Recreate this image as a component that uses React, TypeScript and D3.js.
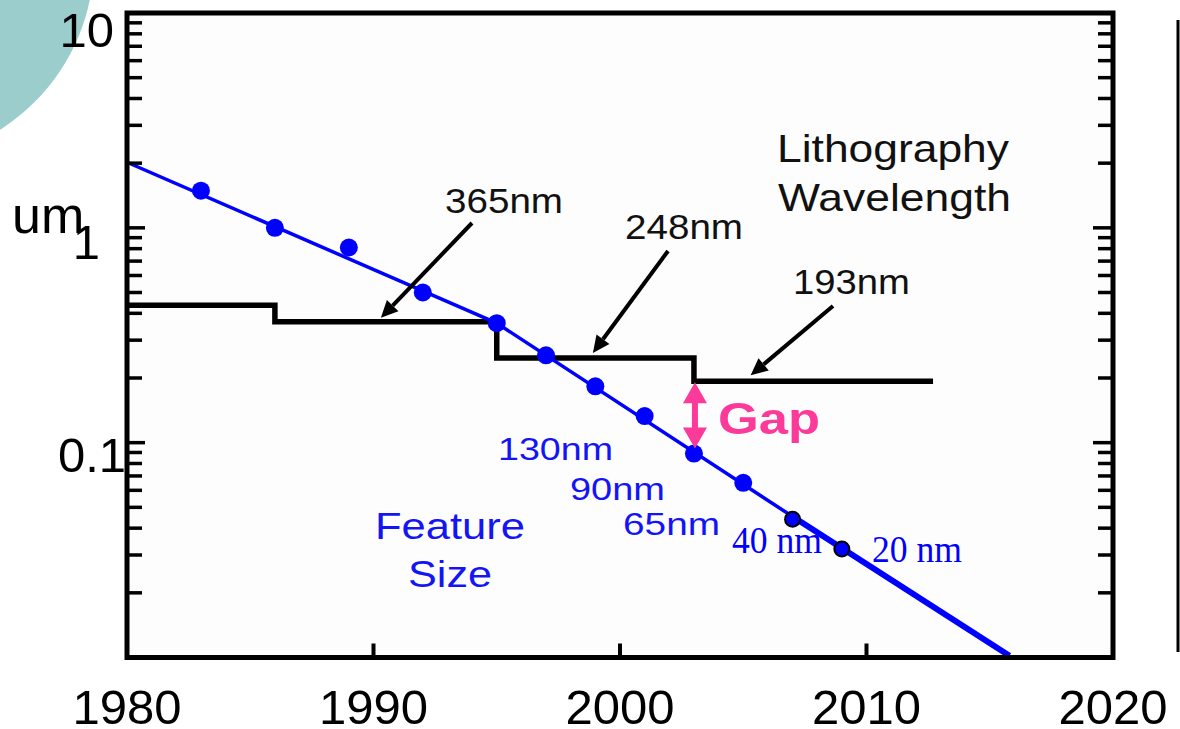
import React from "react";
import * as d3 from "d3";

// ---- data ----
const featureYears = [1983, 1986, 1989, 1992, 1995, 1997, 1999, 2001, 2003, 2005];
const featureSizes = [1.49, 1.0, 0.81, 0.5, 0.36, 0.255, 0.183, 0.133, 0.089, 0.065];
const futureYears = [2007, 2009];
const futureSizes = [0.044, 0.032];
const futureLabels = ["40 nm", "20 nm"];

const trendThinYears = [1980, 1995, 2007];
const trendThinValues = [2.02, 0.36, 0.0453];
const trendThickYears = [2007, 2015.8];
const trendThickValues = [0.0453, 0.0102];

const litStepYears = [1980, 1986, 1995, 2003, 2012.7];
const litStepValues = [0.436, 0.365, 0.248, 0.193, 0.193];

const xTicks = [1980, 1990, 2000, 2010, 2020];
const yLabelValues = [10, 1, 0.1];
const yLabelTexts = ["10", "1", "0.1"];

const gapYear = 2003;
const gapTop = 0.193;
const gapBottom = 0.089;

export default function App() {
  const W = 1180, H = 729;
  const left = 127, right = 1113, top = 13, bottom = 657.5;
  const x = d3.scaleLinear().domain([1980, 2020]).range([left, right]);
  const y = d3.scaleLog().domain([0.01, 10]).range([bottom, top]);

  const line = d3.line<[number, number]>().x(d => x(d[0])).y(d => y(d[1]));
  const stepLine = d3
    .line<[number, number]>()
    .x(d => x(d[0]))
    .y(d => y(d[1]))
    .curve(d3.curveStepAfter);

  const thin = trendThinYears.map((t, i) => [t, trendThinValues[i]] as [number, number]);
  const thick = trendThickYears.map((t, i) => [t, trendThickValues[i]] as [number, number]);
  const steps = litStepYears.map((t, i) => [t, litStepValues[i]] as [number, number]);

  // minor ticks
  const minor: number[] = [];
  [0.01, 0.1, 1].forEach(base => {
    for (let k = 2; k <= 9; k++) minor.push(base * k);
  });

  const font = "'Liberation Sans', Arial, sans-serif";
  const serif = "'Liberation Serif', 'Times New Roman', serif";
  const blue = "#0000ff";
  const textBlue = "#1414f5";
  const pink = "#fb3a99";

  const arrow = (x1: number, y1: number, x2: number, y2: number, key: string) => {
    const ang = Math.atan2(y2 - y1, x2 - x1);
    const hl = 17, hw = 8;
    const bx = x2 - hl * Math.cos(ang), by = y2 - hl * Math.sin(ang);
    const px = -Math.sin(ang) * hw, py = Math.cos(ang) * hw;
    return (
      <g key={key}>
        <line x1={x1} y1={y1} x2={bx} y2={by} stroke="#000" strokeWidth={4} />
        <polygon points={`${x2},${y2} ${bx + px},${by + py} ${bx - px},${by - py}`} fill="#000" />
      </g>
    );
  };

  const labels: { t: string; x: number; y: number; fs: number; w: number; c: string; f: string; bold?: boolean }[] = [
    { t: "365nm", x: 445, y: 213, fs: 35, w: 118, c: "#111", f: font },
    { t: "248nm", x: 625, y: 239, fs: 35, w: 118, c: "#111", f: font },
    { t: "193nm", x: 793, y: 294, fs: 35, w: 117, c: "#111", f: font },
    { t: "Lithography", x: 777, y: 162, fs: 39, w: 232, c: "#111", f: font },
    { t: "Wavelength", x: 778, y: 211, fs: 39, w: 233, c: "#111", f: font },
    { t: "130nm", x: 498, y: 460, fs: 32, w: 115, c: textBlue, f: font },
    { t: "90nm", x: 570, y: 500, fs: 32, w: 95, c: textBlue, f: font },
    { t: "65nm", x: 623, y: 535, fs: 32, w: 97, c: textBlue, f: font },
    { t: "Feature", x: 375, y: 539, fs: 36, w: 150, c: textBlue, f: font },
    { t: "Size", x: 408, y: 587, fs: 36, w: 84, c: textBlue, f: font },
    { t: "Gap", x: 718, y: 434, fs: 45, w: 102, c: pink, f: font, bold: true },
  ];

  const gx = x(gapYear) + 1;
  const gy1 = y(gapTop) + 1;
  const gy2 = y(gapBottom) - 5;

  return (
    <svg width={W} height={H} style={{ position: "absolute", left: 0, top: 0, background: "#fff" }}>
      <defs>
        <linearGradient id="edge" x1="0" y1="0" x2="0" y2="1">
          <stop offset="0" stopColor="#000" />
          <stop offset="0.27" stopColor="#000" />
          <stop offset="0.29" stopColor="#e6dc60" />
          <stop offset="0.4" stopColor="#b8b080" />
          <stop offset="0.55" stopColor="#a09a78" />
          <stop offset="0.65" stopColor="#e8de70" />
          <stop offset="0.78" stopColor="#908a70" />
          <stop offset="0.88" stopColor="#222" />
          <stop offset="1" stopColor="#000" />
        </linearGradient>
      </defs>
      {/* decorative teal circle */}
      <circle cx={-108} cy={-41} r={202} fill="#9bcdcd" />
      {/* plot background */}
      <rect x={left} y={top} width={right - left} height={bottom - top} fill="#fdfdfd" />

      {/* right edge strip */}
      <line x1={1178} y1={20} x2={1178} y2={652} stroke="#000" strokeWidth={3} />
      <line x1={1178.5} y1={20} x2={1178.5} y2={652} stroke="url(#edge)" strokeWidth={2} />

      {/* lithography steps */}
      <path d={stepLine(steps) || ""} fill="none" stroke="#000" strokeWidth={5.5} />

      {/* trend line */}
      <path d={line(thin) || ""} fill="none" stroke={blue} strokeWidth={3.5} />
      <path d={line(thick) || ""} fill="none" stroke={blue} strokeWidth={6} />

      {/* points */}
      {featureYears.map((t, i) => (
        <circle key={"p" + i} cx={x(t)} cy={y(featureSizes[i])} r={9} fill={blue} />
      ))}
      {futureYears.map((t, i) => (
        <circle key={"f" + i} cx={x(t)} cy={y(futureSizes[i])} r={7.5} fill={blue} stroke="#000" strokeWidth={2} />
      ))}

      {/* arrows */}
      {arrow(472, 223, x(1990.3), y(0.365) - 4, "a1")}
      {arrow(668, 251, x(1998.9), y(0.248) - 5, "a2")}
      {arrow(833, 306, x(2005.3), y(0.193) - 6, "a3")}

      {/* gap arrow */}
      <g fill={pink}>
        <rect x={gx - 3} y={gy1 + 18} width={6} height={gy2 - gy1 - 36} />
        <polygon points={`${gx},${gy1} ${gx - 12},${gy1 + 21} ${gx + 12},${gy1 + 21}`} />
        <polygon points={`${gx},${gy2} ${gx - 12},${gy2 - 21} ${gx + 12},${gy2 - 21}`} />
      </g>

      {/* labels */}
      {labels.map(l => (
        <text
          key={l.t}
          x={l.x}
          y={l.y}
          fontFamily={l.f}
          fontSize={l.fs}
          fontWeight={l.bold ? "bold" : "normal"}
          fill={l.c}
          textLength={l.w}
          lengthAdjust="spacingAndGlyphs"
        >
          {l.t}
        </text>
      ))}
      {futureYears.map((t, i) => (
        <text
          key={"fl" + i}
          x={i === 0 ? 732 : 872}
          y={i === 0 ? 553 : 562}
          fontFamily={serif}
          fontSize={37}
          fill={blue}
          textLength={90}
          lengthAdjust="spacingAndGlyphs"
        >
          {futureLabels[i]}
        </text>
      ))}

      {/* frame */}
      <rect x={left} y={top} width={right - left} height={bottom - top} fill="none" stroke="#000" strokeWidth={5} />

      {/* y ticks */}
      {minor.map((v, i) => (
        <g key={"m" + i}>
          <line x1={left} x2={left + 15} y1={y(v)} y2={y(v)} stroke="#000" strokeWidth={3.5} />
          <line x1={right} x2={right - 15} y1={y(v)} y2={y(v)} stroke="#000" strokeWidth={3.5} />
        </g>
      ))}
      {yLabelValues.map((v, i) => (
        <g key={"M" + i}>
          <line x1={left} x2={left + 18} y1={y(v)} y2={y(v)} stroke="#000" strokeWidth={3.5} />
          <line x1={right} x2={right - 20} y1={y(v)} y2={y(v)} stroke="#000" strokeWidth={3.5} />
        </g>
      ))}
      {/* x ticks */}
      {xTicks.slice(1, -1).map(t => (
        <line key={"xt" + t} x1={x(t)} x2={x(t)} y1={bottom} y2={bottom - 14} stroke="#000" strokeWidth={4} />
      ))}

      {/* axis labels */}
      {xTicks.map(t => (
        <text key={"xl" + t} x={x(t)} y={724} textAnchor="middle" fontFamily={font} fontSize={49} fill="#000">
          {t}
        </text>
      ))}
      {yLabelValues.map((v, i) => (
        <text
          key={"yl" + i}
          x={i === 0 ? 114 : i === 1 ? 100 : 126}
          y={y(v) + (i === 0 ? 34 : i === 1 ? 31 : 29)}
          textAnchor="end"
          fontFamily={font}
          fontSize={49}
          fill="#000"
        >
          {yLabelTexts[i]}
        </text>
      ))}
      <text x={12} y={233} fontFamily={font} fontSize={52} fill="#000">
        um
      </text>
    </svg>
  );
}
